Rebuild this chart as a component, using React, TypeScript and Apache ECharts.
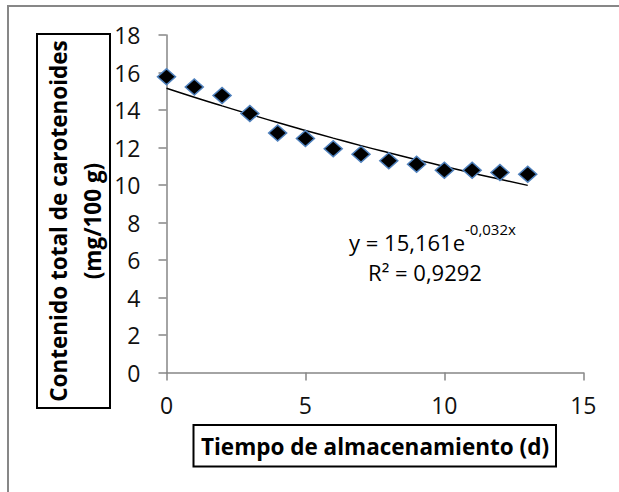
import React, { useEffect, useRef } from 'react';
import * as echarts from 'echarts';

const days = [0, 1, 2, 3, 4, 5, 6, 7, 8, 9, 10, 11, 12, 13];
const carotenoids = [15.77, 15.23, 14.77, 13.81, 12.78, 12.48, 11.93, 11.64, 11.29, 11.11, 10.79, 10.79, 10.67, 10.58];
const trendValues = [15.16, 14.68, 14.22, 13.77, 13.33, 12.91, 12.5, 12.1, 11.72, 11.35, 10.99, 10.64, 10.31, 9.98];
const yTitle = ['Contenido total de carotenoides', '(mg/100 g)'];
const xTitle = 'Tiempo de almacenamiento (d)';
const equationMain = 'y = 15,161e';
const equationExp = '-0,032x';
const r2Text = 'R² = 0,9292';

const FONT = '"Open Sans", "Liberation Sans", sans-serif';

export default function App() {
  const ref = useRef<HTMLDivElement>(null);
  useEffect(() => {
    if (!ref.current) return;
    const chart = echarts.init(ref.current, undefined, { renderer: 'svg' });
    chart.setOption({
      animation: false,
      backgroundColor: '#fff',
      grid: { left: 166.5, right: 35.7, top: 35, bottom: 119.5 },
      xAxis: {
        type: 'value',
        min: 0,
        max: 15,
        interval: 5,
        splitLine: { show: false },
        axisLine: { show: true, onZero: false, lineStyle: { color: '#868686', width: 1.5 } },
        axisTick: { show: true, length: 8, lineStyle: { color: '#868686', width: 1.5 } },
        axisLabel: { margin: 21, fontSize: 23, color: '#111', fontFamily: FONT },
      },
      yAxis: {
        type: 'value',
        min: 0,
        max: 18,
        interval: 2,
        splitLine: { show: false },
        axisLine: { show: true, lineStyle: { color: '#868686', width: 1.5 } },
        axisTick: { show: true, length: 8, lineStyle: { color: '#868686', width: 1.5 } },
        axisLabel: { margin: 26, fontSize: 23, color: '#111', fontFamily: FONT },
      },
      series: [
        {
          type: 'line',
          data: days.map((d, i) => [d, trendValues[i]]),
          smooth: true,
          showSymbol: false,
          lineStyle: { color: '#000', width: 1.5 },
          z: 2,
        },
        {
          type: 'scatter',
          data: days.map((d, i) => [d, carotenoids[i]]),
          symbol: 'diamond',
          symbolSize: [18, 16],
          itemStyle: { color: '#000', borderColor: '#4F81BD', borderWidth: 1.5, opacity: 1 },
          z: 3,
        },
      ],
      graphic: [
        {
          type: 'rect',
          shape: { x: 8, y: 6, width: 700, height: 600 },
          style: { fill: 'none', stroke: '#878787', lineWidth: 2 },
          silent: true,
        },
        {
          type: 'rect',
          shape: { x: 37, y: 34, width: 73, height: 374 },
          style: { fill: '#fff', stroke: '#000', lineWidth: 2 },
          silent: true,
        },
        {
          type: 'text',
          x: 75,
          y: 221,
          rotation: Math.PI / 2,
          style: {
            text: yTitle.join('\n'),
            font: `bold 22.5px ${FONT}`,
            fill: '#000',
            textAlign: 'center',
            textVerticalAlign: 'middle',
            lineHeight: 34,
          },
          silent: true,
        },
        {
          type: 'rect',
          shape: { x: 193.5, y: 425, width: 362.5, height: 41.5 },
          style: { fill: '#fff', stroke: '#000', lineWidth: 2 },
          silent: true,
        },
        {
          type: 'text',
          x: 375,
          y: 446,
          style: {
            text: xTitle,
            font: `bold 22.5px ${FONT}`,
            fill: '#000',
            textAlign: 'center',
            textVerticalAlign: 'middle',
          },
          silent: true,
        },
        {
          type: 'text',
          x: 465,
          y: 242,
          style: {
            text: equationMain,
            font: `22px ${FONT}`,
            fill: '#000',
            textAlign: 'right',
            textVerticalAlign: 'middle',
            lineHeight: 22,
          },
          silent: true,
        },
        {
          type: 'text',
          x: 465,
          y: 229,
          style: {
            text: equationExp,
            font: `15px ${FONT}`,
            fill: '#000',
            textAlign: 'left',
            textVerticalAlign: 'middle',
            lineHeight: 14,
          },
          silent: true,
        },
        {
          type: 'text',
          x: 425,
          y: 272,
          style: {
            text: r2Text,
            font: `22px ${FONT}`,
            fill: '#000',
            textAlign: 'center',
            textVerticalAlign: 'middle',
            lineHeight: 22,
          },
          silent: true,
        },
      ],
    });
    return () => chart.dispose();
  }, []);
  return (
    <div
      ref={ref}
      style={{ position: 'fixed', left: 0, top: 0, width: 619, height: 492 }}
    />
  );
}
